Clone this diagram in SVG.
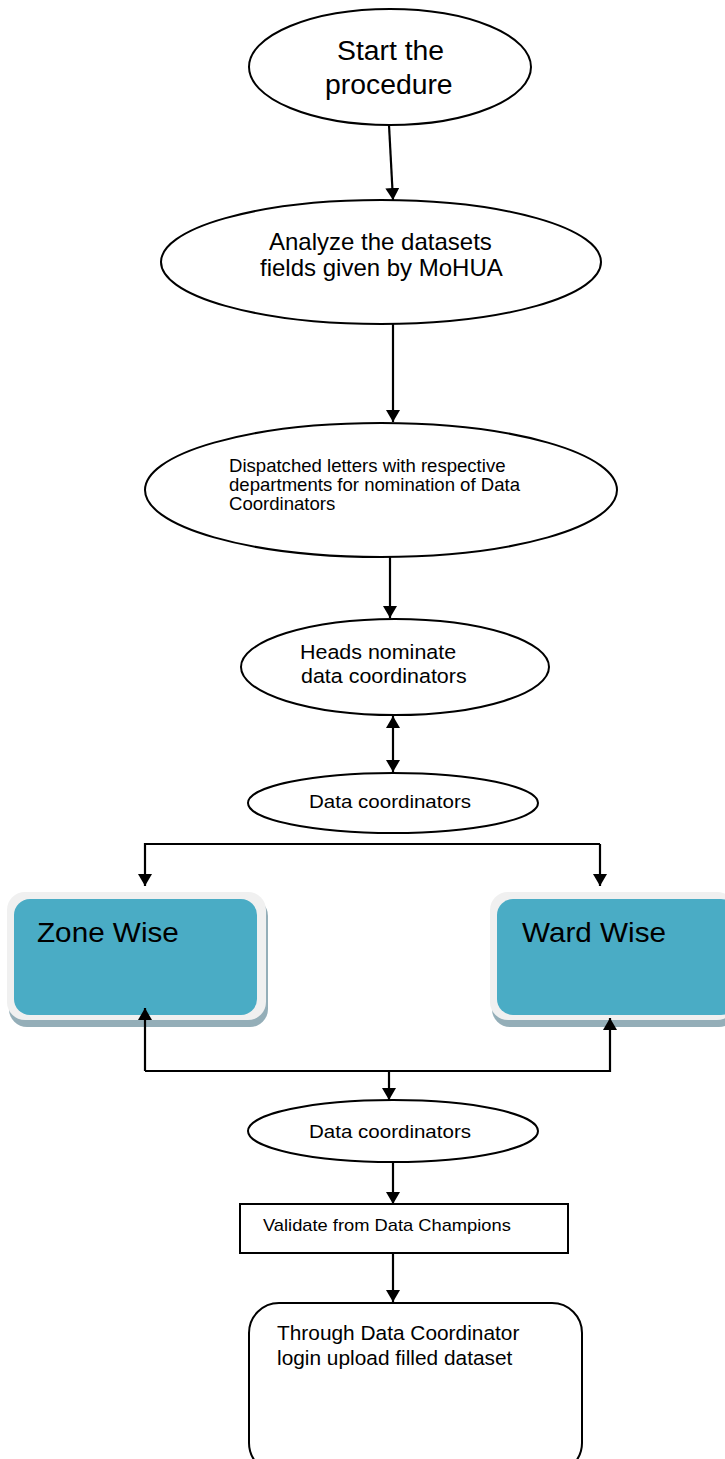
<svg xmlns="http://www.w3.org/2000/svg" width="725" height="1459" viewBox="0 0 725 1459">
<style>
.sh{fill:#fff;stroke:#000;stroke-width:2}
.t{font-family:"Liberation Sans",Arial,sans-serif;fill:#000}
.c{fill:none;stroke:#000;stroke-width:2.2}
</style>
<defs>
<marker id="ah" viewBox="0 0 12 14" refX="12" refY="7" markerWidth="12" markerHeight="14" markerUnits="userSpaceOnUse" orient="auto-start-reverse">
<path d="M0,0 L12,7 L0,14 Z" fill="#000"/>
</marker>
</defs>
<rect width="725" height="1459" fill="#fff"/>
<g id="n1">
<ellipse class="sh" cx="390" cy="67" rx="141" ry="58"/>
<text class="t" transform="translate(337,60) scale(1.05,1)" font-size="27">Start the</text>
<text class="t" transform="translate(325,94) scale(1.05,1)" font-size="27">procedure</text>
</g>
<g id="n2">
<ellipse class="sh" cx="381" cy="262" rx="220" ry="62"/>
<text class="t" x="269" y="250" font-size="24">Analyze the datasets</text>
<text class="t" x="260" y="276" font-size="24">fields given by MoHUA</text>
</g>
<g id="n3">
<ellipse class="sh" cx="381" cy="490" rx="236" ry="67"/>
<text class="t" transform="translate(229,472) scale(1.05,1)" font-size="17.7">Dispatched letters with respective</text>
<text class="t" transform="translate(229,491) scale(1.05,1)" font-size="17.7">departments for nomination of Data</text>
<text class="t" transform="translate(229,510) scale(1.05,1)" font-size="17.7">Coordinators</text>
</g>
<g id="n4">
<ellipse class="sh" cx="395" cy="667" rx="154" ry="48"/>
<text class="t" transform="translate(300,659) scale(1.1,1)" font-size="19.5">Heads nominate</text>
<text class="t" transform="translate(301,683) scale(1.1,1)" font-size="19.5">data coordinators</text>
</g>
<g id="n5">
<ellipse class="sh" cx="393" cy="803" rx="145" ry="30"/>
<text class="t" transform="translate(309,808) scale(1.11,1)" font-size="18.5">Data coordinators</text>
</g>
<g id="zone">
<rect x="9" y="898" width="259" height="129" rx="18" fill="#94aeb8"/>
<rect x="7" y="892" width="259" height="128" rx="18" fill="#f0f0f0"/>
<rect x="14" y="899" width="243" height="116" rx="16" fill="#4aacc5"/>
<text class="t" transform="translate(37,942) scale(1.06,1)" font-size="28">Zone Wise</text>
</g>
<g id="ward">
<rect x="492" y="898" width="245" height="129" rx="18" fill="#94aeb8"/>
<rect x="490" y="892" width="245" height="128" rx="18" fill="#f0f0f0"/>
<rect x="497" y="899" width="240" height="116" rx="16" fill="#4aacc5"/>
<text class="t" transform="translate(522,942) scale(1.06,1)" font-size="28">Ward Wise</text>
</g>
<g id="n6">
<ellipse class="sh" cx="393" cy="1131" rx="145" ry="31"/>
<text class="t" transform="translate(309,1138) scale(1.11,1)" font-size="18.5">Data coordinators</text>
</g>
<g id="n7">
<rect class="sh" x="240" y="1204" width="328" height="49" stroke-width="1.5"/>
<text class="t" transform="translate(263,1231) scale(1.09,1)" font-size="16.8">Validate from Data Champions</text>
</g>
<g id="n8">
<rect class="sh" x="249" y="1303" width="333" height="170" rx="30"/>
<text class="t" transform="translate(277,1340) scale(1.07,1)" font-size="19.5">Through Data Coordinator</text>
<text class="t" transform="translate(277,1365) scale(1.07,1)" font-size="19.5">login upload filled dataset</text>
</g>
<g id="connectors">
<path class="c" d="M389,125 L393,200" marker-end="url(#ah)"/>
<path class="c" d="M393,324 L393,422" marker-end="url(#ah)"/>
<path class="c" d="M390,557 L390,618" marker-end="url(#ah)"/>
<path class="c" d="M393,716 L393,772" marker-start="url(#ah)" marker-end="url(#ah)"/>
<path class="c" d="M600,844 L145,844 L145,886" marker-end="url(#ah)"/>
<path class="c" d="M600,844 L600,886" marker-end="url(#ah)"/>
<path class="c" d="M145,1071 L145,1008" marker-end="url(#ah)"/>
<path class="c" d="M145,1071 L610,1071 L610,1018" marker-end="url(#ah)"/>
<path class="c" d="M389,1071 L389,1100" marker-end="url(#ah)"/>
<path class="c" d="M393,1162 L393,1204" marker-end="url(#ah)"/>
<path class="c" d="M393,1254 L393,1302" marker-end="url(#ah)"/>
</g>
</svg>
